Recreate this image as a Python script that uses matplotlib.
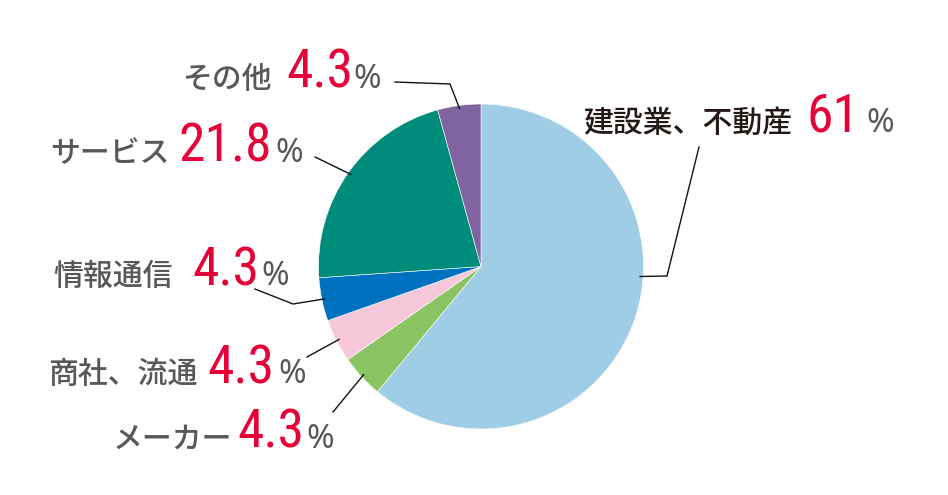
import numpy as np
import matplotlib
matplotlib.use("Agg")
import matplotlib.pyplot as plt

# ---- data ----
categories = ["建設業、不動産", "メーカー", "商社、流通", "情報通信", "サービス", "その他"]
values = [61, 4.3, 4.3, 4.3, 21.8, 4.3]
value_labels = ["61", "4.3", "4.3", "4.3", "21.8", "4.3"]
colors = ["#9fcde6", "#8bc462", "#f6c8d9", "#0071bf", "#008c7b", "#7f64a0"]

W, H = 948, 495
fig = plt.figure(figsize=(W / 100, H / 100), dpi=100)
ax = fig.add_axes([0, 0, 1, 1])

cx, cy, R = 481, 266.5, 162.5
def Y(y):
    return H - y

wedges, _ = ax.pie(values, colors=colors, startangle=90, counterclock=False,
                   radius=R, center=(cx, Y(cy)),
                   wedgeprops=dict(linewidth=0.4, edgecolor="white"))
ax.set_xlim(0, W)
ax.set_ylim(0, H)
ax.set_aspect("equal")
ax.axis("off")

JP = ["Noto Sans CJK JP", "DejaVu Sans"]
NUM = ["Roboto Condensed", "IBM Plex Sans Condensed", "Liberation Sans Narrow", "Roboto", "DejaVu Sans"]
PCT = ["Noto Sans", "DejaVu Sans"]
RED = "#e50037"
GRAY = "#595757"
DARK = "#231815"

# layout: (name x, number x, pct x, baseline y, name color)
layout = [
    (583, 807, 866, 132, DARK),
    (113, 237, 306, 448, GRAY),
    (48, 207, 278, 383, GRAY),
    (53, 192, 261, 285, GRAY),
    (50, 179, 275, 162, GRAY),
    (182, 286, 353, 88, GRAY),
]
# leader lines: label-side points and anchor angle override (deg) on pie edge
leaders = [
    ([(699, 147), (667, 276)], -3.6),
    ([(333, 412)], None),
    ([(307, 357)], None),
    ([(255, 289), (293, 304)], None),
    ([(315, 157)], None),
    ([(395, 82), (450, 84)], None),
]

for i, w in enumerate(wedges):
    nx, vx, px, by, col = layout[i]
    ax.text(nx, Y(by), categories[i], fontsize=21.5, color=col, family=JP,
            weight="medium", ha="left", va="baseline")
    ax.text(vx, Y(by), value_labels[i], fontsize=38.5, color=RED, family=NUM,
            ha="left", va="baseline")
    ax.text(px, Y(by), "%", fontsize=24, color=GRAY, family=PCT,
            ha="left", va="baseline")
    pts, ang = leaders[i]
    if ang is None:
        ang = (w.theta1 + w.theta2) / 2
    r_end = R - 3
    ex = cx + r_end * np.cos(np.radians(ang))
    ey = Y(cy) + r_end * np.sin(np.radians(ang))
    xs = [p[0] for p in pts] + [ex]
    ys = [Y(p[1]) for p in pts] + [ey]
    ax.plot(xs, ys, color="#111111", lw=1.0)

fig.savefig("out.png", dpi=100)
